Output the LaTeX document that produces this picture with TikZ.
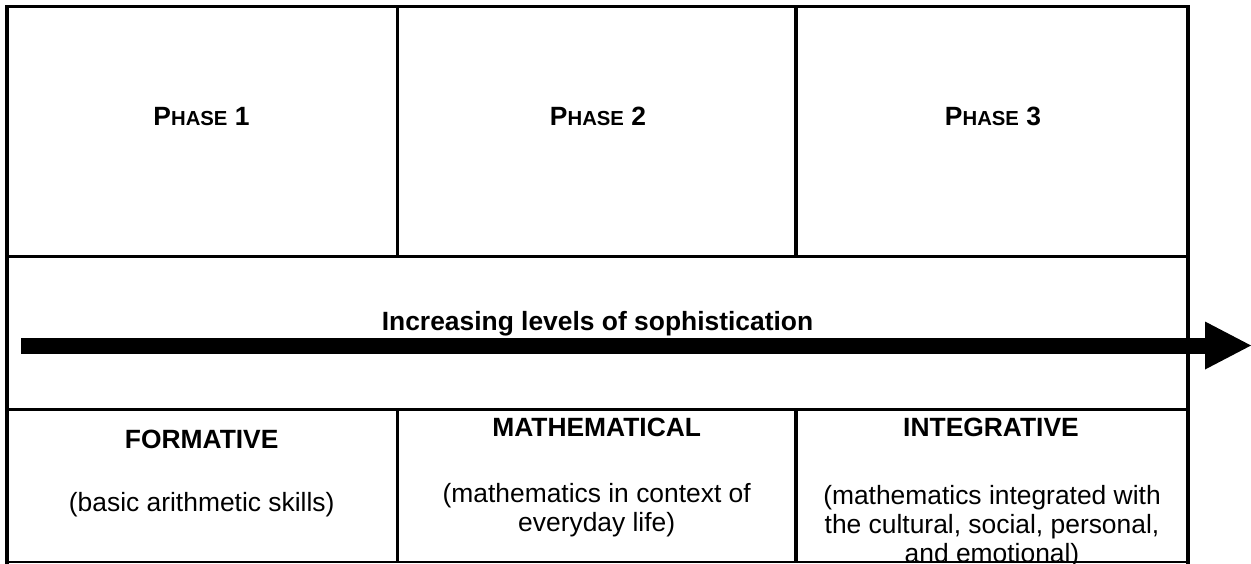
\documentclass[tikz,border=0pt]{standalone}
\usepackage{fontspec}
\setmainfont{Liberation Sans}
\begin{document}
\begin{tikzpicture}[x=1pt,y=-1pt,
  thickrule/.style={line width=3.8pt, line cap=rect},
  thinrule/.style={line width=1.6pt},
  txt/.style={inner sep=0pt, anchor=base, font=\fontsize{26.4}{29}\selectfont},
  boldtxt/.style={txt, font=\fontsize{26.4}{29}\selectfont\bfseries},
]
\useasboundingbox (0,0) rectangle (1251,563);
% table grid
\draw[thickrule] (7,6.5) -- (1188,6.5);
\draw[thickrule] (7,6.5) -- (7,563);
\draw[thickrule] (1188,6.5) -- (1188,563);
\draw[line width=3.2pt] (7,256.5) -- (1188,256.5);
\draw[line width=3.2pt] (7,409.5) -- (1188,409.5);
\draw[line width=3.5pt] (397.5,6.5) -- (397.5,256.5);
\draw[line width=3.5pt] (796,6.5) -- (796,256.5);
\draw[line width=3.5pt] (397.5,409.5) -- (397.5,563);
\draw[line width=3.5pt] (796,409.5) -- (796,563);
\draw[thinrule] (5,562.2) -- (1190,562.2);
% phases
\node[boldtxt] (p1) at (201.5,125.7) {P{\fontsize{20.3}{20}\selectfont HASE} 1};
\node[boldtxt] (p2) at (598,125.7) {P{\fontsize{20.3}{20}\selectfont HASE} 2};
\node[boldtxt] (p3) at (993,125.7) {P{\fontsize{20.3}{20}\selectfont HASE} 3};
% arrow
\fill (21,337.5) rectangle (1205,353.5);
\fill (1205,321.5) -- (1251,345.5) -- (1205,369.5) -- cycle;
\node[boldtxt] (inc) at (597.5,330) {Increasing levels of sophistication};
% bottom row
\node[boldtxt] (f) at (201.7,448.3) {FORMATIVE};
\node[txt] (f1) at (201.7,511) {(basic arithmetic skills)};
\node[boldtxt] (m) at (596.7,436.7) {MATHEMATICAL};
\node[txt] (m1) at (596.7,502.5) {(mathematics in context of};
\node[txt] (m2) at (596.7,531) {everyday life)};
\node[boldtxt] (i) at (991,436.7) {INTEGRATIVE};
\node[txt] (i1) at (992,504.5) {(mathematics integrated with};
\node[txt] (i2) at (992,533.5) {the cultural, social, personal,};
\node[txt] (i3) at (992,562.5) {and emotional)};
\end{tikzpicture}
\end{document}
